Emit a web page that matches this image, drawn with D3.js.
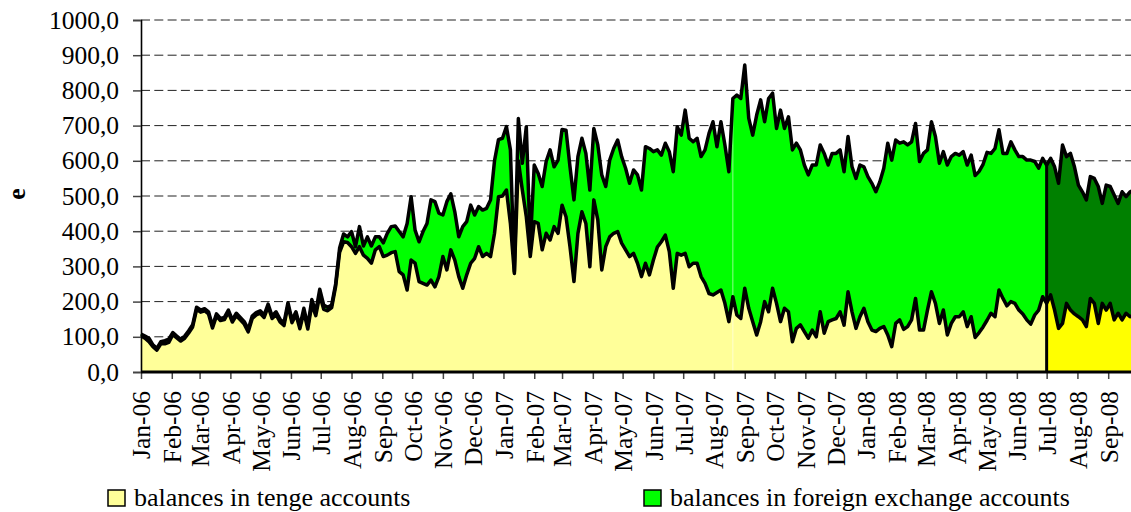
<!DOCTYPE html>
<html>
<head>
<meta charset="utf-8">
<script src="https://cdn.jsdelivr.net/npm/d3@7"></script>
<style>
  html, body { margin: 0; padding: 0; background: #ffffff; }
  svg { display: block; font-family: "Liberation Serif", "Times New Roman", serif; }
</style>
</head>
<body>
<svg id="chart" width="1131" height="512"></svg>
<script>
// Observations every 4 days starting 1 January 2006
const startDate = new Date(2006, 0, 1);
const stepDays = 4;

// Balances in tenge accounts
const tenge = [
  103, 96, 86, 72, 62, 80, 80, 84, 106, 97,
  88, 96, 111, 128, 178, 170, 174, 165, 125, 159,
  146, 149, 170, 142, 160, 148, 136, 114, 152, 162,
  167, 155, 186, 152, 163, 142, 132, 189, 140, 163,
  123, 170, 122, 192, 160, 218, 178, 174, 183, 243,
  340, 370, 368, 356, 337, 356, 332, 323, 309, 347,
  356, 328, 332, 339, 342, 285, 276, 233, 318, 309,
  257, 252, 247, 261, 242, 271, 328, 290, 347, 318,
  271, 238, 276, 309, 323, 356, 328, 337, 328, 394,
  498, 500, 517, 422, 280, 600, 517, 441, 328, 427,
  422, 347, 394, 375, 413, 394, 474, 441, 356, 257,
  394, 455, 422, 299, 489, 432, 290, 356, 384, 394,
  399, 366, 347, 328, 337, 309, 271, 309, 276, 318,
  355, 370, 389, 342, 238, 337, 332, 337, 299, 309,
  309, 271, 252, 223, 219, 226, 233, 195, 143, 214,
  162, 152, 238, 181, 143, 105, 143, 200, 171, 238,
  195, 143, 181, 171, 86, 124, 134, 115, 96, 119,
  100, 171, 110, 143, 148, 152, 171, 133, 228, 171,
  124, 157, 181, 143, 119, 115, 124, 129, 105, 72,
  138, 148, 121, 129, 148, 209, 119, 119, 176, 228,
  195, 138, 176, 105, 138, 157, 157, 171, 129, 157,
  98, 112, 128, 147, 167, 157, 233, 209, 188, 200,
  195, 176, 165, 148, 136, 162, 176, 214, 195, 219,
  176, 124, 138, 195, 176, 165, 157, 148, 129, 209,
  195, 138, 195, 176, 195, 148, 167, 148, 167, 157, 162
];

// Balances in foreign exchange accounts
const forex = [
  5, 6, 10, 5, 5, 6, 9, 9, 6, 5,
  5, 6, 6, 6, 6, 6, 6, 6, 6, 6,
  6, 6, 6, 6, 7, 7, 7, 7, 7, 7,
  7, 7, 7, 7, 8, 8, 8, 8, 8, 8,
  8, 11, 9, 14, 11, 17, 12, 10, 7, 7,
  12, 22, 16, 43, 19, 57, 26, 61, 49, 37,
  28, 39, 62, 74, 73, 114, 108, 189, 180, 94,
  113, 147, 175, 228, 242, 180, 118, 194, 159, 137,
  113, 175, 151, 165, 123, 114, 132, 128, 161, 206,
  162, 164, 180, 209, 5, 120, 76, 256, 32, 161,
  142, 180, 204, 256, 170, 208, 215, 246, 227, 232,
  218, 209, 199, 218, 203, 213, 270, 171, 218, 241,
  260, 246, 232, 208, 237, 251, 246, 331, 359, 308,
  276, 246, 261, 284, 331, 360, 341, 407, 365, 345,
  355, 341, 379, 455, 492, 414, 478, 450, 426, 563,
  625, 625, 634, 540, 530, 625, 630, 511, 606, 554,
  497, 601, 511, 554, 545, 526, 497, 473, 464, 469,
  488, 474, 511, 445, 473, 469, 460, 436, 441, 412,
  426, 431, 402, 412, 417, 397, 416, 450, 545, 530,
  521, 502, 533, 516, 506, 497, 479, 502, 455, 483,
  474, 455, 450, 483, 474, 464, 459, 455, 459, 459,
  460, 458, 462, 477, 454, 478, 455, 412, 433, 454,
  436, 436, 447, 454, 466, 436, 403, 393, 393, 388,
  407, 412, 507, 417, 445, 418, 374, 364, 360, 346,
  355, 389, 284, 355, 332, 355, 312, 364, 331, 355, 355
];

const seriesKeys = ["tenge", "forex"];
const seriesNames = ["balances in tenge accounts", "balances in foreign exchange accounts"];
const splitDate = new Date(2008, 6, 1);   // colour change of both series
const seamDate = new Date(2007, 7, 20);   // faint join between area pieces
const yTicks = d3.range(0, 1001, 100);
const monthTicks = d3.timeMonth.range(new Date(2006, 0, 1), new Date(2008, 9, 1));

const rows = tenge.map((t, i) => ({
  date: d3.timeDay.offset(startDate, i * stepDays),
  tenge: t,
  forex: forex[i]
}));

const svg = d3.select("#chart");
const W = 1131, H = 512;

const x = d3.scaleTime()
  .domain([new Date(2006, 0, 1), new Date(2008, 9, 1)])
  .range([141, 1138]);
const y = d3.scaleLinear().domain([0, 1000]).range([372, 20]);

const stacked = d3.stack().keys(seriesKeys)(rows);

// dashed horizontal gridlines
svg.append("g")
  .selectAll("line")
  .data(yTicks.filter(d => d > 0))
  .join("line")
  .attr("x1", 141).attr("x2", W)
  .attr("y1", d => y(d)).attr("y2", d => y(d))
  .attr("stroke", "#222")
  .attr("stroke-width", 1)
  .attr("stroke-dasharray", "9,4.3");

const area = d3.area()
  .x(d => x(d.data.date))
  .y0(d => y(d[0]))
  .y1(d => y(d[1]));

const pieces = [
  { test: d => d.data.date <= splitDate, colors: ["#FFFF99", "#00FF00"] },
  { test: d => d.data.date >= splitDate, colors: ["#FFFF00", "#008000"] }
];

const areaG = svg.append("g");
pieces.forEach(p => {
  stacked.forEach((layer, k) => {
    areaG.append("path")
      .datum(layer.filter(p.test))
      .attr("fill", p.colors[k])
      .attr("stroke", p.colors[k])
      .attr("stroke-width", 0.5)
      .attr("d", area);
  });
});

// faint join line between area pieces
const seamRow = stacked[1].reduce((a, b) =>
  Math.abs(b.data.date - seamDate) < Math.abs(a.data.date - seamDate) ? b : a);
svg.append("line")
  .attr("x1", x(seamDate)).attr("x2", x(seamDate))
  .attr("y1", y(0)).attr("y2", y(seamRow[1]))
  .attr("stroke", "#ffffff")
  .attr("stroke-opacity", 0.55)
  .attr("stroke-width", 1);

// black outlines along the top of each stacked layer
const topLine = d3.line()
  .x(d => x(d.data.date))
  .y(d => y(d[1]));
stacked.forEach(layer => {
  svg.append("path")
    .datum(layer)
    .attr("fill", "none")
    .attr("stroke", "#000")
    .attr("stroke-width", 3.5)
    .attr("stroke-linejoin", "round")
    .attr("d", topLine);
});

// vertical edge where the second period begins
const splitRow = stacked[1].find(d => +d.data.date === +splitDate);
svg.append("line")
  .attr("x1", x(splitDate)).attr("x2", x(splitDate))
  .attr("y1", y(0)).attr("y2", y(splitRow[1]))
  .attr("stroke", "#000")
  .attr("stroke-width", 3);

// Y axis
const fmt = d => d3.format(".1f")(d).replace(".", ",");
const yAxis = svg.append("g")
  .attr("transform", "translate(141,0)")
  .call(d3.axisLeft(y).tickValues(yTicks).tickSize(8).tickPadding(14).tickFormat(fmt));
yAxis.select(".domain").attr("stroke", "#000").attr("stroke-width", 1.6);
yAxis.selectAll(".tick line").attr("stroke", "#444").attr("stroke-width", 1.5);
yAxis.selectAll("text")
  .attr("font-size", 25.5)
  .attr("font-family", "Liberation Serif")
  .attr("fill", "#000");

// X axis
const xAxis = svg.append("g")
  .attr("transform", "translate(0,372)")
  .call(d3.axisBottom(x).tickValues(monthTicks).tickSize(7).tickFormat(d3.timeFormat("%b-%y")));
xAxis.select(".domain").remove();
xAxis.selectAll(".tick line").attr("stroke", "#444").attr("stroke-width", 1.5);
xAxis.selectAll("text")
  .attr("font-size", 25.5)
  .attr("font-family", "Liberation Serif")
  .attr("fill", "#000")
  .attr("x", 0).attr("y", 0)
  .attr("dy", "0.35em")
  .attr("text-anchor", "end")
  .attr("transform", "translate(0,19) rotate(-90)");
svg.append("line")
  .attr("x1", 141).attr("x2", W)
  .attr("y1", 372).attr("y2", 372)
  .attr("stroke", "#000").attr("stroke-width", 3);

// axis title
svg.append("text")
  .attr("transform", "translate(16,194) rotate(-90)")
  .attr("text-anchor", "middle")
  .attr("dy", "0.35em")
  .attr("font-size", 25.5)
  .attr("font-weight", "bold")
  .text("e");

// legend
const legendItems = [
  { name: seriesNames[0], color: "#FFFF99", x: 108 },
  { name: seriesNames[1], color: "#00FF00", x: 644 }
];
const lg = svg.append("g");
legendItems.forEach(item => {
  lg.append("rect")
    .attr("x", item.x).attr("y", 490)
    .attr("width", 17).attr("height", 16)
    .attr("fill", item.color)
    .attr("stroke", "#000").attr("stroke-width", 1.5);
  lg.append("text")
    .attr("x", item.x + 26).attr("y", 506)
    .attr("font-size", 26)
    .attr("fill", "#000")
    .text(item.name);
});
</script>
</body>
</html>
